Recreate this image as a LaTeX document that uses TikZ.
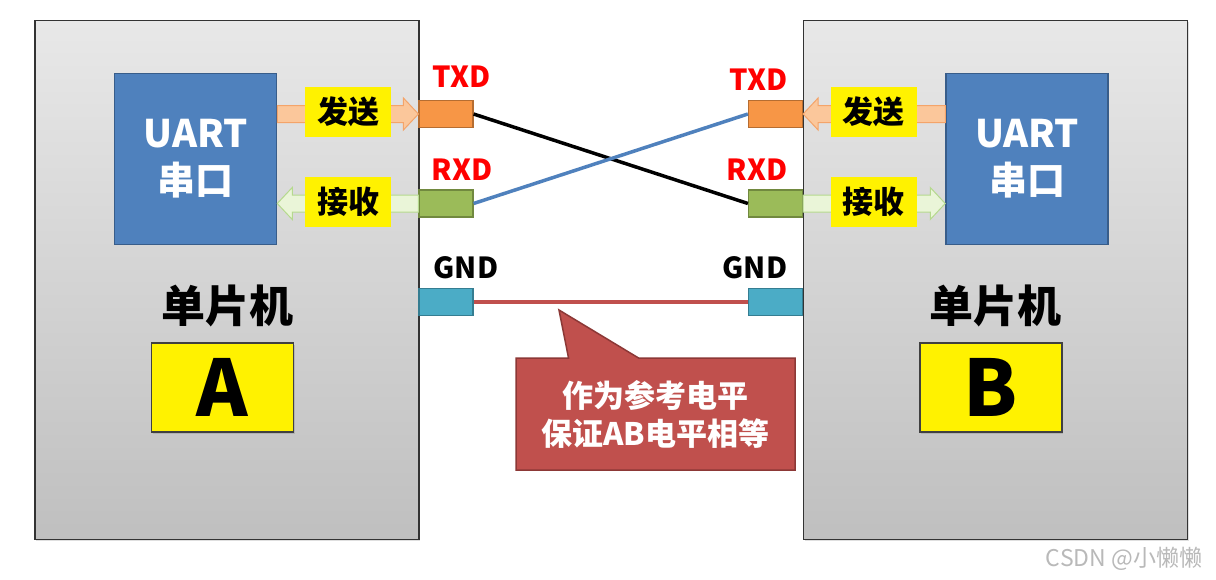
\documentclass[tikz,border=0pt]{standalone}
\usepackage{fontspec}
\setmainfont{Noto Sans CJK SC}
\usetikzlibrary{calc,shapes.callouts,shadows}
\definecolor{uartblue}{HTML}{4F81BD}
\definecolor{uartedge}{HTML}{385D8A}
\definecolor{txdorange}{HTML}{F79646}
\definecolor{txdedge}{HTML}{B66D31}
\definecolor{rxdgreen}{HTML}{9BBB59}
\definecolor{rxdedge}{HTML}{71893F}
\definecolor{gndcyan}{HTML}{4BACC6}
\definecolor{gndedge}{HTML}{357D91}
\definecolor{notered}{HTML}{C0504D}
\definecolor{noteedge}{HTML}{8C3836}
\definecolor{sendfill}{HTML}{FBC79B}
\definecolor{sendedge}{HTML}{F4A46A}
\definecolor{recvfill}{HTML}{EAF5D8}
\definecolor{recvedge}{HTML}{B5D98E}
\definecolor{pinred}{HTML}{FF0000}
\tikzset{
  board/.style={draw=black!80,line width=1.5pt,top color=gray!18,bottom color=gray!50,
    minimum width=384pt,minimum height=519pt,
    drop shadow={opacity=0.25,shadow xshift=1pt,shadow yshift=-1.5pt}},
  uart/.style={draw=uartedge,line width=1.5pt,fill=uartblue,minimum width=162pt,
    minimum height=171pt,text=white,align=center,font=\bfseries\fontsize{38}{47}\selectfont},
  tag/.style={fill=yellow,minimum width=86pt,minimum height=50pt,inner sep=0pt,
    font=\bfseries\fontsize{31}{31}\selectfont},
  pin/.style={draw,line width=1.2pt,minimum width=54pt,minimum height=27pt,inner sep=0pt},
  pinname/.style={inner sep=0pt,font=\bfseries\fontsize{29}{29}\selectfont},
  chip/.style={draw=black!75,line width=1.2pt,fill=yellow,minimum width=142pt,minimum height=89pt,
    inner sep=0pt,font=\bfseries\fontsize{78}{78}\selectfont,
    drop shadow={opacity=0.3,shadow xshift=1pt,shadow yshift=-1.5pt}},
  wire/.style={line width=3.5pt},
  sendarrow/.style={draw=sendedge,fill=sendfill,line width=1pt},
  recvarrow/.style={draw=recvedge,fill=recvfill,line width=1pt}
}
\newcommand\fatarrow[3]{%
  \draw[#1] let \p1=(#2), \p2=(#3), \p3=($(#3)!15pt!(#2)$) in
    (\x1,{\y2+8.5pt}) -- (\x3,{\y2+8.5pt}) -- (\x3,{\y2+16pt})
    -- (\x2,\y2) -- (\x3,{\y2-16pt}) -- (\x3,{\y2-8.5pt})
    -- (\x1,{\y2-8.5pt}) -- cycle;}
\begin{document}
\begin{tikzpicture}[x=1pt,y=-1pt]
\useasboundingbox[fill=white] (0,0) rectangle (1216,579);
\node [board,name=boardA] at (227,280){};
\node [board,name=boardB] at (995.5,280){};
\node [uart,name=uartA] at (195.5,159){UART\\串口};
\node [uart,name=uartB] at (1027,159){UART\\串口};
\node [pin,fill=txdorange,draw=txdedge,name=txdA] at (446,114){};
\node [pin,fill=rxdgreen,draw=rxdedge,name=rxdA] at (446,203.5){};
\node [pin,fill=gndcyan,draw=gndedge,name=gndA] at (446,302){};
\node [pin,fill=txdorange,draw=txdedge,name=txdB] at (775.5,114){};
\node [pin,fill=rxdgreen,draw=rxdedge,name=rxdB] at (775.5,203.5){};
\node [pin,fill=gndcyan,draw=gndedge,name=gndB] at (775.5,302){};
\node [pinname,text=pinred,name=txdAname] at (462,77){TXD};
\node [pinname,text=pinred,name=rxdAname] at (462,170){RXD};
\node [pinname,name=gndAname] at (466,268){GND};
\node [pinname,text=pinred,name=txdBname] at (759,80){TXD};
\node [pinname,text=pinred,name=rxdBname] at (757,170){RXD};
\node [pinname,name=gndBname] at (755,268){GND};
\draw[wire,draw=black] (txdA.east)--(rxdB.west);
\draw[wire,draw=uartblue] (rxdA.east)--(txdB.west);
\draw[wire,draw=notered] (gndA.east)--(gndB.west);
\fatarrow{sendarrow}{uartA.east|-txdA}{txdA.west}
\fatarrow{recvarrow}{rxdA.west}{uartA.east|-rxdA}
\fatarrow{sendarrow}{uartB.west|-txdB}{txdB.east}
\fatarrow{recvarrow}{rxdB.east}{uartB.west|-rxdB}
\node [tag,name=sendA] at (348,112){发送};
\node [tag,name=recvA] at (348,202){接收};
\node [tag,name=sendB] at (873.5,112){发送};
\node [tag,name=recvB] at (873.5,202){接收};
\node [font=\bfseries\fontsize{44}{44}\selectfont,name=mcuA] at (227,306){单片机};
\node [font=\bfseries\fontsize{44}{44}\selectfont,name=mcuB] at (995,306){单片机};
\node [chip,name=chipA] at (222.5,387.5){A};
\node [chip,name=chipB] at (991,387.5){B};
\node [rectangle callout,callout absolute pointer={(559,310)},callout pointer width=70pt,
  fill=notered,draw=noteedge,line width=1.5pt,minimum width=279pt,minimum height=112pt,
  text=white,align=center,font=\bfseries\fontsize{31}{38}\selectfont,name=note]
  at (655.5,414){作为参考电平\\保证AB电平相等};
\node [text=gray!55,font=\fontsize{23}{23}\selectfont,name=mark] at (1124,559){CSDN @小懒懒};
\end{tikzpicture}
\end{document}
